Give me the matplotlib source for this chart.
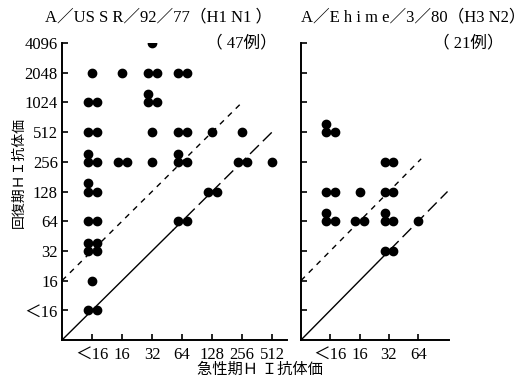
import matplotlib.pyplot as plt

plt.rcParams['font.family'] = ['Liberation Serif', 'Noto Sans CJK JP']

# titer scale shared by both panels (position = index + 1)
TITERS = ["<16", "16", "32", "64", "128", "256", "512", "1024", "2048", "4096"]
Y_LABELS = ["＜16", "16", "32", "64", "128", "256", "512", "1024", "2048", "4096"]

# A/USSR/92/77 (H1N1): acute titer, convalescent titer, number of cases
ussr_acute = ["32",
              "<16", "16", "32", "64",
              "<16", "32",
              "<16", "32", "64", "128", "256",
              "<16", "16", "32", "64", "256", "512",
              "<16", "128",
              "<16", "64",
              "<16",
              "<16",
              "<16"]
ussr_conv = ["4096",
             "2048", "2048", "2048", "2048",
             "1024", "1024",
             "512", "512", "512", "512", "512",
             "256", "256", "256", "256", "256", "256",
             "128", "128",
             "64", "64",
             "32",
             "16",
             "<16"]
ussr_n = [1,
          1, 1, 2, 2,
          2, 3,
          2, 1, 2, 1, 1,
          3, 2, 1, 3, 2, 1,
          3, 2,
          2, 2,
          4,
          1,
          2]
ussr_xticks = ["＜16", "16", "32", "64", "128", "256", "512"]

# A/Ehime/3/80 (H3N2)
ehime_acute = ["<16", "32", "<16", "16", "32", "<16", "16", "32", "64", "32"]
ehime_conv = ["512", "256", "128", "128", "128", "64", "64", "64", "64", "32"]
ehime_n = [3, 2, 2, 1, 2, 3, 2, 3, 1, 2]
ehime_xticks = ["＜16", "16", "32", "64"]

# small offsets so coincident cases stay visible
OFFSETS = {
    1: [(0, 0)],
    2: [(-0.15, 0), (0.15, 0)],
    3: [(-0.15, 0), (0.15, 0), (-0.15, 0.27)],
    4: [(-0.15, 0), (0.15, 0), (-0.15, 0.27), (0.15, 0.27)],
}


def level(t):
    return TITERS.index(t) + 1


def draw_panel(ax, acute, conv, counts, xticks, xmax, dash_end, solid_end, diag_end):
    for a, c, n in zip(acute, conv, counts):
        x0, y0 = level(a), level(c)
        for dx, dy in OFFSETS[n]:
            ax.plot(x0 + dx, y0 + dy, 'o', color='black', markersize=6)

    # no change line y = x, drawn solid then long dashes
    ax.plot([0, solid_end], [0, solid_end], color='black', lw=1.0)
    ax.plot([solid_end, diag_end], [solid_end, diag_end], color='black', lw=1.0,
            dashes=(9, 4))
    # four-fold rise line
    ax.plot([0, dash_end], [2, dash_end + 2], color='black', lw=1.0, dashes=(4, 4))

    ax.set_xlim(0, xmax)
    ax.set_ylim(0, 10)
    ax.spines['top'].set_visible(False)
    ax.spines['right'].set_visible(False)
    for s in ('left', 'bottom'):
        ax.spines[s].set_linewidth(1.4)
    ax.set_xticks(range(1, len(xticks) + 1))
    ax.set_xticklabels(xticks, fontsize=12)
    ax.set_yticks(range(1, 11))
    ax.tick_params(direction='in', length=4, width=1.2, pad=3)
    ax.tick_params(axis='x', pad=5)


fig = plt.figure(figsize=(5.26, 3.81), dpi=100)
ax1 = fig.add_axes([0.1179, 0.1076, 0.4278, 0.7795])
ax2 = fig.add_axes([0.5722, 0.1076, 0.2814, 0.7795])

draw_panel(ax1, ussr_acute, ussr_conv, ussr_n, ussr_xticks, 7.5, 6.0, 3.7, 7.0)
ax1.set_yticklabels(Y_LABELS, fontsize=12)

draw_panel(ax2, ehime_acute, ehime_conv, ehime_n, ehime_xticks, 5.05, 4.1, 2.6, 5.0)
ax2.set_yticklabels([])

fig.text(0.085, 0.955, "A／US S R／92／77（H1 N1 ）", fontsize=12, va='center')
fig.text(0.392, 0.887, "（ 47例）", fontsize=12, va='center')
fig.text(0.572, 0.955, "A／E h i m e／3／80（H3 N2）", fontsize=12, va='center')
fig.text(0.823, 0.887, "（ 21例）", fontsize=12, va='center')

fig.text(0.036, 0.548, "回復期ＨＩ抗体価", fontsize=10, rotation=90,
         ha='center', va='center')
fig.text(0.495, 0.029, "急性期Ｈ Ｉ抗体価", fontsize=11, ha='center', va='center')

fig.savefig("out.png", dpi=100, facecolor='white')
